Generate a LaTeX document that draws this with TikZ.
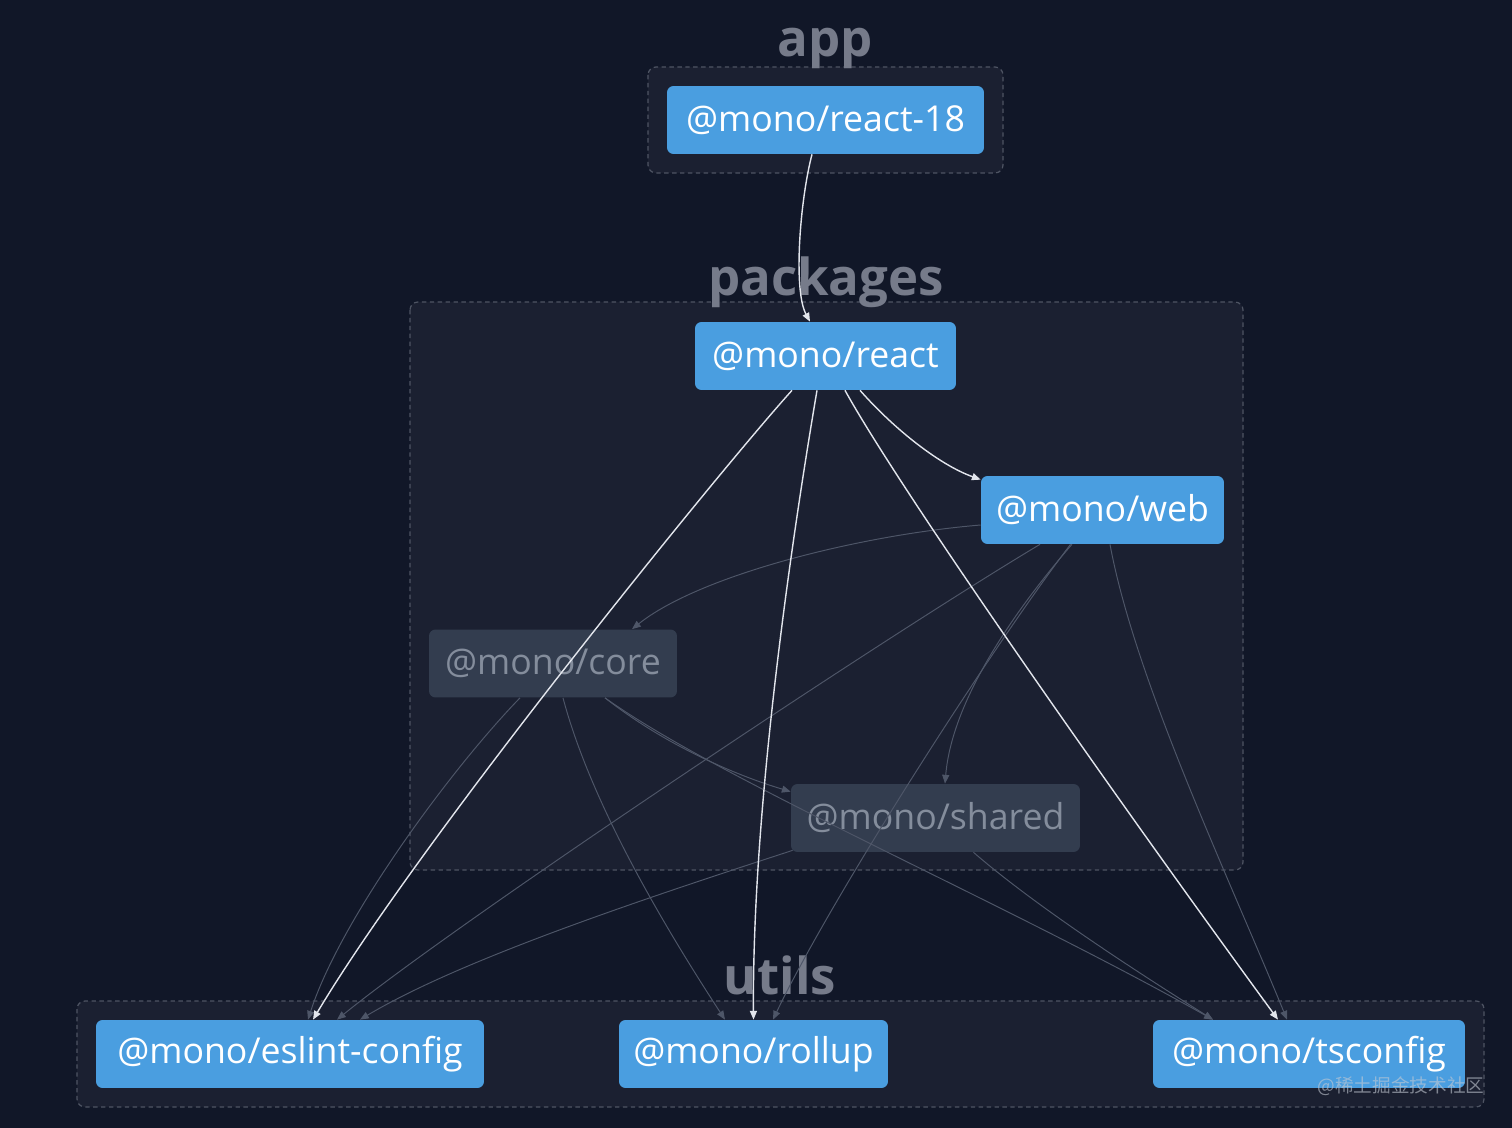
\documentclass[tikz,border=0pt]{standalone}
\usepackage{fontspec}
\setmainfont{Open Sans}
\newfontfamily\cjkfont{Noto Sans CJK SC}
\usepackage{tikz}
\usetikzlibrary{arrows.meta,calc}
\definecolor{bgcolor}{RGB}{17,23,40}
\definecolor{groupfill}{RGB}{27,32,49}
\definecolor{groupline}{RGB}{78,84,99}
\definecolor{grouptext}{RGB}{118,123,138}
\definecolor{pkgblue}{RGB}{74,158,224}
\definecolor{pkgdim}{RGB}{51,61,79}
\definecolor{dimtext}{RGB}{132,141,156}
\definecolor{marktext}{RGB}{196,202,212}
\definecolor{edgewhite}{RGB}{226,229,236}
\definecolor{edgedim}{RGB}{78,86,104}

\begin{document}
\begin{tikzpicture}[x=0.02cm, y=-0.02cm,
    pkg/.style={fill=pkgblue, text=white, rounded corners=0.13cm, minimum height=1.36cm,
      inner sep=0pt, font=\fontsize{20.3}{23}\selectfont},
    pkgoff/.style={pkg, fill=pkgdim, text=dimtext},
    group/.style={draw=groupline, fill=groupfill, dash pattern=on 2.5pt off 2pt,
      rounded corners=0.16cm, line width=0.7pt},
    grouplabel/.style={text=grouptext, inner sep=0pt, font=\fontsize{29}{33}\selectfont\bfseries},
    dep/.style={-{Triangle[length=5pt,width=4pt]}, edgewhite, line width=0.8pt},
    depoff/.style={-{Triangle[length=5pt,width=4pt]}, edgedim, line width=0.55pt}]

    % Canvas
    \fill[bgcolor] (0,0) rectangle (1512,1128);
    \useasboundingbox (0,0) rectangle (1512,1128);

    % Groups
    \draw[group] (648,67) rectangle (1003,173);
    \draw[group] (410,302) rectangle (1243,870);
    \draw[group] (77,1001) rectangle (1484,1107);
    \node[grouplabel] (applabel) at (825,48) {app};
    \node[grouplabel] (pkglabel) at (826,282) {packages};
    \node[grouplabel] (utilslabel) at (780,975) {utils};

    % Packages
    \node[pkg, minimum width=6.34cm] (react18) at (825.5,120) {@mono/react-18};
    \node[pkg, minimum width=5.22cm] (react) at (825.5,356) {@mono/react};
    \node[pkg, minimum width=4.86cm] (web) at (1102.5,510) {@mono/web};
    \node[pkgoff, minimum width=4.96cm] (core) at (553,663.5) {@mono/core};
    \node[pkgoff, minimum width=5.78cm] (shared) at (935.5,818) {@mono/shared};
    \node[pkg, minimum width=7.76cm] (eslint) at (290,1054) {@mono/eslint-config};
    \node[pkg, minimum width=5.38cm] (rollup) at (753.5,1054) {@mono/rollup};
    \node[pkg, minimum width=6.24cm] (tsconfig) at (1309,1054) {@mono/tsconfig};

    % Dependencies of web, core and shared
    \draw[depoff] ($(web.west)+(0,15)$) .. controls (860,535) and (700,575) .. ($(core.north)+(79,0)$);
    \draw[depoff] ($(web.south)+(-30.5,0)$) .. controls (1015,610) and (952,700) .. ($(shared.north)+(9.5,0)$);
    \draw[depoff] ($(web.south)+(-32,0)$) .. controls (990,650) and (830,900) .. ($(rollup.north)+(19.5,0)$);
    \draw[depoff] ($(web.south)+(-62.5,0)$) .. controls (880,640) and (460,920) .. ($(eslint.north)+(47,0)$);
    \draw[depoff] ($(web.south)+(7.5,0)$) .. controls (1135,680) and (1230,880) .. ($(tsconfig.north)+(-22,0)$);
    \draw[depoff] ($(core.south)+(52,0)$) .. controls (665,745) and (735,775) .. ($(shared.north west)+(0,8)$);
    \draw[depoff] ($(core.south)+(52,0)$) .. controls (720,780) and (1000,900) .. ($(tsconfig.north)+(-96,0)$);
    \draw[depoff] ($(core.south)+(-33,0)$) .. controls (450,770) and (340,920) .. ($(eslint.north)+(18,0)$);
    \draw[depoff] ($(core.south)+(10,0)$) .. controls (590,800) and (660,920) .. ($(rollup.north)+(-28.5,0)$);
    \draw[depoff] ($(shared.south west)+(2,-2)$) .. controls (640,900) and (460,960) .. ($(eslint.north)+(70,0)$);
    \draw[depoff] ($(shared.south)+(38,0)$) .. controls (1040,910) and (1150,980) .. ($(tsconfig.north)+(-96,0)$);

    % Dependencies of react-18 and react
    \draw[dep] ($(react18.south)+(-13.5,0)$) .. controls (800,200) and (793,290) .. ($(react.north)+(-15.5,0)$);
    \draw[dep] ($(react.south)+(34.5,0)$) .. controls (895,430) and (940,465) .. ($(web.north west)+(0,4)$);
    \draw[dep] ($(react.south)+(-33.5,0)$) .. controls (720,470) and (420,840) .. ($(eslint.north)+(23,0)$);
    \draw[dep] ($(react.south)+(-8.5,0)$) .. controls (795,520) and (752,800) .. (rollup.north);
    \draw[dep] ($(react.south)+(19.5,0)$) .. controls (900,490) and (1110,790) .. ($(tsconfig.north)+(-31,0)$);

    % Watermark
    \node[text=marktext, text opacity=0.6, font=\cjkfont\fontsize{10.6}{12}\selectfont] (mark) at (1401,1086) {@稀土掘金技术社区};
\end{tikzpicture}
\end{document}
